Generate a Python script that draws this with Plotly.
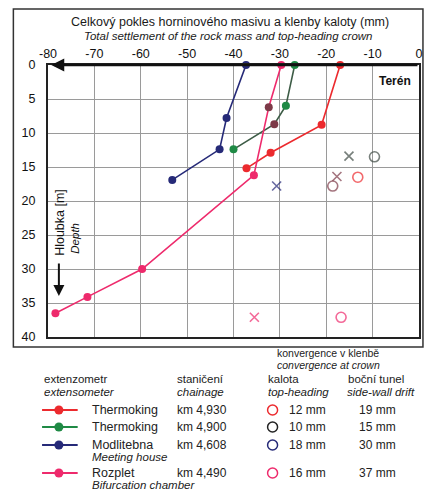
import plotly.graph_objects as go

# ---------------- data ----------------
series_names = ["Thermoking", "Thermoking", "Modlitebna", "Rozplet"]
series_subnames = ["", "", "Meeting house", "Bifurcation chamber"]
chainages = ["km 4,930", "km 4,900", "km 4,608", "km 4,490"]
top_heading_mm = ["12 mm", "10 mm", "18 mm", "16 mm"]
side_wall_mm = ["19 mm", "15 mm", "30 mm", "37 mm"]

red_x = [-17, -21, -32, -37.2]
red_y = [0, 8.8, 12.9, 15.2]
green_x = [-26.8, -28.7, -31.2, -40]
green_y = [0, 6.0, 8.7, 12.4]
navy_x = [-37.3, -41.5, -43, -53.2]
navy_y = [0, 7.8, 12.4, 16.9]
pink_x = [-29.7, -32.4, -35.6, -59.7, -71.5, -78.4]
pink_y = [0, 6.2, 16.2, 30.0, 34.1, 36.5]

# convergence marks (x = settlement axis, y = depth axis)
conv_x = [-15.1, -9.6, -13.2, -17.7, -18.6, -30.7, -35.5, -16.8]
conv_y = [13.4, 13.5, 16.5, 16.4, 17.8, 17.8, 37.1, 37.1]
conv_kind = ["x", "o", "o", "x", "o", "x", "x", "o"]

x_ticks = [-80, -70, -60, -50, -40, -30, -20, -10, 0]
y_ticks = [0, 5, 10, 15, 20, 25, 30, 35, 40]

# ---------------- styles ----------------
RED = "#ec2a2e"
GREEN = "#1f8a45"
NAVY = "#262a78"
PINK = "#ee2a6c"
BROWN = "#7d3a48"
DKGRAY = "#3f4a44"
series_colors = [RED, GREEN, NAVY, PINK]
line_colors = [RED, "#3d5c46", NAVY, PINK]
conv_colors = [DKGRAY, DKGRAY, RED, BROWN, BROWN, NAVY, PINK, PINK]
marker_override = {(1, 2): BROWN, (3, 1): BROWN}

FONT = "Liberation Sans, Arial, sans-serif"

L, R, T, B = 48, 423, 65, 337
W, H = 428, 490


def px(xp):
    return (xp - L) / (R - L)


def py(yp):
    return (B - yp) / (B - T)


fig = go.Figure()

all_x = [red_x, green_x, navy_x, pink_x]
all_y = [red_y, green_y, navy_y, pink_y]
for i, (xs, ys) in enumerate(zip(all_x, all_y)):
    mcols = [marker_override.get((i, k), series_colors[i]) for k in range(len(xs))]
    fig.add_trace(go.Scatter(
        x=xs, y=ys, mode="lines+markers",
        line=dict(color=line_colors[i], width=1.6),
        marker=dict(color=mcols, size=8, line=dict(width=0)),
        showlegend=False, hoverinfo="skip", cliponaxis=False))

sym = {"x": "x-thin-open", "o": "circle-open"}
fig.add_trace(go.Scatter(
    x=conv_x, y=conv_y, mode="markers",
    marker=dict(symbol=[sym[k] for k in conv_kind], color=conv_colors,
                size=[9 if k == "x" else 10 for k in conv_kind],
                line=dict(width=1.6, color=conv_colors)),
    showlegend=False, hoverinfo="skip"))

shapes = []
annotations = []

# outer frame
shapes.append(dict(type="rect", xref="paper", yref="paper",
                   x0=px(13), x1=px(427), y0=py(347), y1=py(9),
                   line=dict(color="#333", width=1.5), layer="below"))

# top axis arrow line
annotations.append(dict(x=-79.3, y=0, ax=0, ay=0, xref="x", yref="y",
                        axref="x", ayref="y", showarrow=True, arrowhead=2,
                        arrowsize=1.0, arrowwidth=2.6, arrowcolor="#111", text=""))


def txt(x, y, s, size=11.5, italic=False, anchor="left", color="#222", angle=0):
    if italic:
        s = "<i>" + s + "</i>"
    annotations.append(dict(x=px(x), y=py(y), xref="paper", yref="paper",
                            text=s, showarrow=False, xanchor=anchor, yanchor="middle",
                            textangle=angle,
                            font=dict(family=FONT, size=size, color=color)))


# titles
txt(232, 22, "Celkový pokles horninového masivu a klenby kaloty (mm)", size=12.5,
    anchor="center", color="#1a1a1a")
txt(230, 36, "Total settlement of the rock mass and top-heading crown", size=11.5,
    italic=True, anchor="center", color="#1a1a1a")

annotations.append(dict(x=-1.3, y=1.0, xref="x", yref="y", xanchor="right", yanchor="top",
                        text="<b>Terén</b>", showarrow=False,
                        font=dict(family=FONT, size=12, color="#111")))

# y axis titles
txt(60, 222, "Hloubka [m]", size=12.5, anchor="center", color="#111", angle=-90)
txt(75, 238, "Depth", size=11.5, italic=True, anchor="center", color="#111", angle=-90)
annotations.append(dict(x=px(59), y=py(296), ax=0, ay=-34, xref="paper", yref="paper",
                        axref="pixel", ayref="pixel", showarrow=True, arrowhead=2,
                        arrowsize=1.1, arrowwidth=2, arrowcolor="#111", text=""))

# legend table headers
txt(277, 353, "konvergence v klenbě", size=10.5)
txt(277, 365, "convergence at crown", size=10.5, italic=True)
txt(42, 379, "extenzometr", size=11.5)
txt(42, 392, "extensometer", size=11.5, italic=True)
txt(176, 379, "staničení", size=11.5)
txt(176, 392, "chainage", size=11.5, italic=True)
txt(268, 379, "kalota", size=11.5)
txt(268, 392, "top-heading", size=11.5, italic=True)
txt(349, 379, "boční tunel", size=11.5)
txt(348, 392, "side-wall drift", size=11.5, italic=True)

row_y = [410, 427, 445, 473]
conv_leg_colors = [RED, "#222", NAVY, PINK]
for i in range(4):
    yv = row_y[i]
    shapes.append(dict(type="line", xref="paper", yref="paper",
                       x0=px(42), x1=px(78), y0=py(yv), y1=py(yv),
                       line=dict(color=series_colors[i], width=2)))
    shapes.append(dict(type="circle", xref="paper", yref="paper",
                       xsizemode="pixel", ysizemode="pixel",
                       xanchor=px(59), yanchor=py(yv),
                       x0=-4.5, x1=4.5, y0=-4.5, y1=4.5,
                       fillcolor=series_colors[i], line=dict(width=0)))
    txt(90, yv, series_names[i], size=12.5)
    if series_subnames[i]:
        txt(90, yv + 12, series_subnames[i], size=11.5, italic=True)
    txt(176, yv, chainages[i], size=12)
    shapes.append(dict(type="circle", xref="paper", yref="paper",
                       xsizemode="pixel", ysizemode="pixel",
                       xanchor=px(275), yanchor=py(yv),
                       x0=-5, x1=5, y0=-5, y1=5,
                       line=dict(color=conv_leg_colors[i], width=1.5)))
    txt(290, yv, top_heading_mm[i], size=12)
    txt(381, yv, side_wall_mm[i], size=12, anchor="center")

fig.update_layout(
    width=W, height=H,
    margin=dict(l=L, r=W - R, t=T, b=H - B),
    paper_bgcolor="white", plot_bgcolor="white",
    font=dict(family=FONT, size=12, color="#111"),
    shapes=shapes, annotations=annotations,
    xaxis=dict(range=[-80, 0], side="top", tickvals=x_ticks,
               ticktext=[str(v) for v in x_ticks],
               showgrid=True, gridcolor="#9a9a9a", gridwidth=1.2,
               zeroline=False, showline=True, linecolor="#222", linewidth=2,
               mirror=True, ticks="", ticklabelstandoff=0,
               tickfont=dict(size=12.5)),
    yaxis=dict(range=[40, 0], tickvals=y_ticks,
               ticktext=[str(v) for v in y_ticks],
               showgrid=True, gridcolor="#9a9a9a", gridwidth=1.2,
               zeroline=False, showline=True, linecolor="#222", linewidth=2,
               mirror=True, ticks="", ticklabelstandoff=8,
               tickfont=dict(size=12.5)),
)

fig.write_html("out.html")
